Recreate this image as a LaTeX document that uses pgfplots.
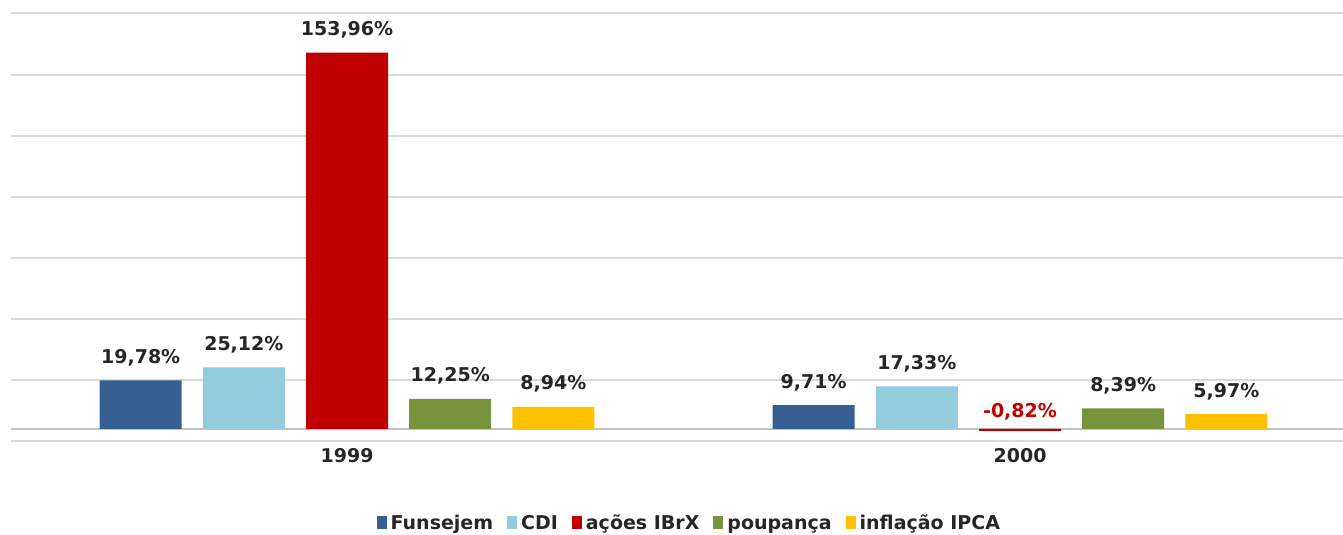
\documentclass[border=0pt]{standalone}
\usepackage{pgfplots}
\pgfplotsset{compat=1.18}
\usepackage{fontspec}
\setmainfont{DejaVu Sans}

\definecolor{cFun}{HTML}{376092}
\definecolor{cCDI}{HTML}{93CDDD}
\definecolor{cIBrX}{HTML}{C00000}
\definecolor{cPoup}{HTML}{77933C}
\definecolor{cIPCA}{HTML}{FFC000}
\definecolor{txt}{HTML}{262626}
\definecolor{gridc}{HTML}{D9D9D9}

% value label: red and a bit lower when negative
\newcommand{\vallabel}{\pgfmathfloattofixed{\pgfplotspointmeta}%
  \ifdim\pgfmathresult pt<0pt
    \raisebox{-1.8pt}{\color{cIBrX}\pgfmathprintnumber[fixed, fixed zerofill, precision=2, use comma, assume math mode=true]{\pgfplotspointmeta}\%}%
  \else
    \pgfmathprintnumber[fixed, fixed zerofill, precision=2, use comma, assume math mode=true]{\pgfplotspointmeta}\%%
  \fi}

\begin{document}
\begin{tikzpicture}
\begin{axis}[
  scale only axis, width=666pt, height=213.75pt,
  xmin=-0.4993, xmax=1.4799, ymin=-5, ymax=170,
  ybar, bar width=0.1218,
  xtick={0,1}, xticklabels={1999,2000},
  ytick={-5,20,...,170}, yticklabels={},
  ymajorgrids, grid style={gridc, line width=1pt},
  extra y ticks={0}, extra y tick labels={},
  extra y tick style={grid style={gridc!90!black, line width=1.2pt}},
  axis line style={draw=none}, major tick length=0pt,
  tick label style={font=\bfseries\fontsize{9.5}{11}\selectfont, text=txt},
  nodes near coords={\vallabel},
  every node near coord/.append style={font=\bfseries\fontsize{9.5}{11}\selectfont, text=txt, anchor=base, inner sep=0pt, yshift=8.5pt},
  legend columns=5,
  legend style={at={(0.51,-0.192)}, anchor=center, draw=none, fill=none,
    font=\bfseries\fontsize{9.5}{11}\selectfont, text=txt,
    /tikz/every even column/.append style={column sep=5pt},
    /tikz/every odd column/.append style={column sep=0pt}},
  legend image code/.code={\fill[#1] (0pt,-3pt) rectangle (5pt,3.3pt);},
]
\addplot[fill=cFun, draw=none, bar shift=-0.3066] coordinates {(0,19.78) (1,9.71)};
\addlegendentry{\strut Funsejem}
\addplot[fill=cCDI, draw=none, bar shift=-0.1533] coordinates {(0,25.12) (1,17.33)};
\addlegendentry{\strut CDI}
\addplot[fill=cIBrX, draw=none, bar shift=0] coordinates {(0,153.96) (1,-0.82)};
\addlegendentry{\strut ações IBrX}
\addplot[fill=cPoup, draw=none, bar shift=0.1533] coordinates {(0,12.25) (1,8.39)};
\addlegendentry{\strut poupança}
\addplot[fill=cIPCA, draw=none, bar shift=0.3066] coordinates {(0,8.94) (1,5.97)};
\addlegendentry{\strut inflação IPCA}
\end{axis}
\pgfresetboundingbox
\path (-5.5pt,-47pt) rectangle (666pt,220.5pt);
\end{tikzpicture}
\end{document}
